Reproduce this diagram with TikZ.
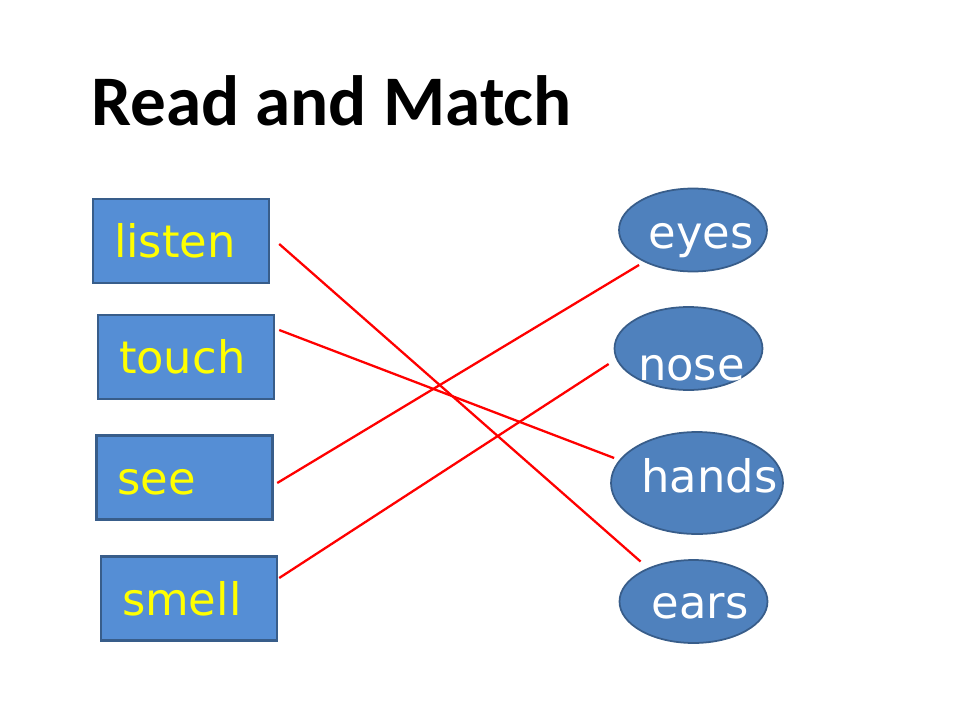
\documentclass[tikz,border=0pt]{standalone}
\usepackage{fontspec}
\setsansfont{Carlito}
\newfontfamily\wordfont{DejaVu Sans}
\usetikzlibrary{shapes,positioning,calc}

\definecolor{boxblue}{RGB}{85,142,213}
\definecolor{ellblue}{RGB}{79,129,189}
\definecolor{edgeblue}{RGB}{56,93,138}
\definecolor{wordyellow}{RGB}{255,255,0}

\begin{document}
\begin{tikzpicture}[
    x=0.02cm, y=-0.02cm,
    wordbox/.style={rectangle, draw=edgeblue, line width=1.4pt, fill=boxblue, minimum width=3.52cm, minimum height=1.68cm, inner xsep=0.42cm, text width=2.68cm, align=left, text height=24pt, text depth=4.8pt, font=\wordfont\fontsize{25.5}{30}\selectfont, text=wordyellow},
    sense/.style={ellipse, draw=edgeblue, line width=1pt, fill=ellblue, inner sep=0pt, minimum width=2.96cm, minimum height=1.66cm},
    senselabel/.style={anchor=base, inner sep=0pt, font=\wordfont\fontsize{25.5}{30}\selectfont, text=white},
    match/.style={draw=red, line width=1.3pt}
  ]
    \useasboundingbox (0,0) rectangle (960,720);

    \node[anchor=base west, inner sep=0pt, font=\sffamily\bfseries\fontsize{40.5}{47}\selectfont] (title) at (91,125) {Read and Match};

    % words on the left
    \node[wordbox] (listen) at (181,241) {listen};
    \node[wordbox] (touch) at (186,357) {touch};
    \node[wordbox] (see) at (184.5,477.5) {see};
    \node[wordbox] (smell) at (189,598.5) {smell};

    % body parts on the right
    \node[sense] (eyes) at (693,230) {};
    \node[sense] (nose) at (688.5,348.5) {};
    \node[sense, minimum width=3.44cm, minimum height=2.04cm] (hands) at (697,483) {};
    \node[sense] (ears) at (693.5,601.5) {};

    \node[senselabel] (eyes-text) at ($(eyes.center)+(8,18)$) {eyes};
    \node[senselabel] (nose-text) at ($(nose.center)+(3,31.5)$) {nose};
    \node[senselabel] (hands-text) at ($(hands.center)+(12.5,9)$) {hands};
    \node[senselabel] (ears-text) at ($(ears.center)+(6.5,16.5)$) {ears};

    \draw[match] ($(listen.east)+(9,3)$) -- ($(ears.north west)+(0,-10)$);
    \draw[match] ($(touch.east)+(4,-27)$) -- ($(hands.west)+(4,-25)$);
    \draw[match] ($(see.east)+(3.5,5.5)$) -- ($(eyes.south west)+(-1,5)$);
    \draw[match] ($(smell.east)+(1,-20.5)$) -- ($(nose.west)+(-5,15.5)$);
  \end{tikzpicture}
\end{document}
